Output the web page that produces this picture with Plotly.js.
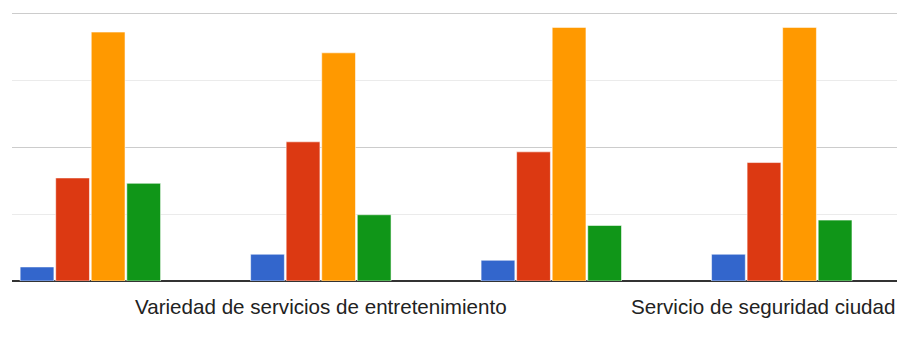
<!DOCTYPE html>
<html>
<head>
<meta charset="utf-8">
<script src="https://cdn.plot.ly/plotly-3.0.1.min.js"></script>
<style>html,body{margin:0;padding:0;background:#fff;}#chart{width:910px;height:338px;}</style>
</head>
<body>
<div id="chart"></div>
<script>
const categories = [
  "Servicio de transporte",
  "Variedad de servicios de entretenimiento",
  "Servicio de limpieza ciudad",
  "Servicio de seguridad ciudad"
];
const shownLabels = [1, 3];
const seriesNames = ["Serie 1", "Serie 2", "Serie 3", "Serie 4"];
const seriesColors = ["#3366cc", "#dc3912", "#ff9900", "#109618"];
const s1 = [2.1, 4.0, 3.1, 4.0];
const s2 = [15.4, 20.8, 19.3, 17.7];
const s3 = [37.2, 34.1, 37.9, 37.9];
const s4 = [14.6, 9.9, 8.3, 9.1];
const seriesValues = [s1, s2, s3, s4];

const traces = seriesValues.map((vals, i) => ({
  type: "bar",
  name: seriesNames[i],
  x: categories,
  y: vals,
  marker: { color: seriesColors[i], line: { color: "rgba(255,255,255,0.55)", width: 1 } },
  hoverinfo: "none"
}));

const labelFont = { family: "Arial, Liberation Sans", size: 20.6, color: "#222222" };

const layout = {
  width: 910, height: 338,
  margin: { l: 12, r: 13, t: 12, b: 57 },
  paper_bgcolor: "#fff", plot_bgcolor: "#fff",
  showlegend: false,
  barmode: "group",
  bargap: 0.383,
  bargroupgap: 0.05,
  xaxis: {
    type: "category",
    range: [-0.34, 3.5],
    showticklabels: false,
    showgrid: false, zeroline: false, showline: false, ticks: ""
  },
  yaxis: {
    range: [0, 40.2],
    tickmode: "linear", tick0: 0, dtick: 20,
    showticklabels: false,
    showgrid: true, gridcolor: "#cccccc", gridwidth: 1,
    minor: { dtick: 10, showgrid: true, gridcolor: "#ebebeb", gridwidth: 1 },
    zeroline: true, zerolinecolor: "#333333", zerolinewidth: 2,
    showline: false, ticks: ""
  },
  annotations: [
    { xref: "x", yref: "paper", x: categories[shownLabels[0]], y: 0, yshift: -12,
      xanchor: "center", yanchor: "top", showarrow: false,
      text: categories[shownLabels[0]], font: labelFont },
    { xref: "paper", yref: "paper", x: 1, y: 0, yshift: -12, xshift: 0,
      xanchor: "right", yanchor: "top", showarrow: false,
      text: categories[shownLabels[1]], font: labelFont }
  ]
};

Plotly.newPlot("chart", traces, layout, { staticPlot: true, displayModeBar: false });
</script>
</body>
</html>
